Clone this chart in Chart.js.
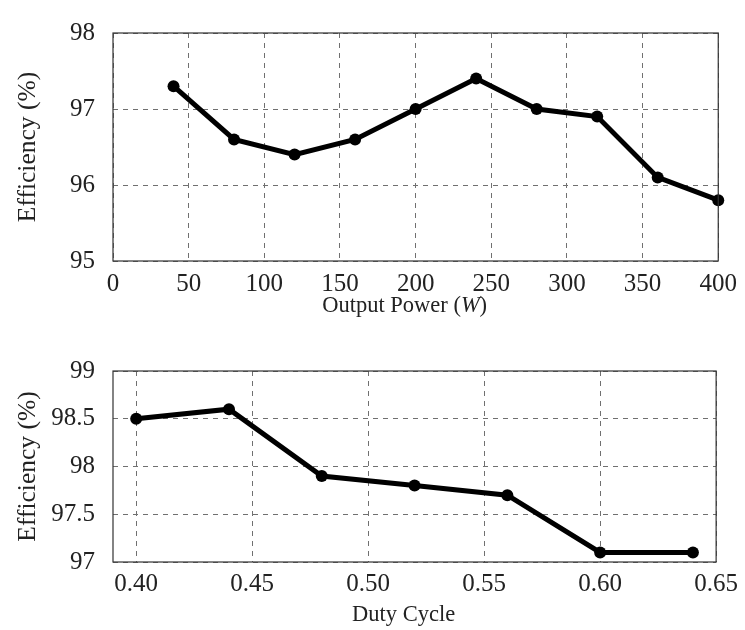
<!DOCTYPE html>
<html>
<head>
<meta charset="utf-8">
<script src="https://cdn.jsdelivr.net/npm/chart.js@4.4.0/dist/chart.umd.min.js"></script>
<style>
  html, body { margin: 0; padding: 0; background: #fff; }
  .panel { position: absolute; left: 0; width: 745px; }
  #topPanel { top: 0; height: 335px; }
  #bottomPanel { top: 315px; height: 315px; }
</style>
</head>
<body>
<div class="panel" id="topPanel"><canvas id="powerChart"></canvas></div>
<div class="panel" id="bottomPanel"><canvas id="dutyChart"></canvas></div>
<script>
// Efficiency vs output power
const powerX = [40, 80, 120, 160, 200, 240, 280, 320, 360, 400];
const powerEff = [97.3, 96.6, 96.4, 96.6, 97.0, 97.4, 97.0, 96.9, 96.1, 95.8];
const powerTicksX = [0, 50, 100, 150, 200, 250, 300, 350, 400];
const powerTicksY = [95, 96, 97, 98];

// Efficiency vs duty cycle
const dutyX = [0.40, 0.44, 0.48, 0.52, 0.56, 0.60, 0.64];
const dutyEff = [98.5, 98.6, 97.9, 97.8, 97.7, 97.1, 97.1];
const dutyTicksX = [0.40, 0.45, 0.50, 0.55, 0.60, 0.65];
const dutyTicksY = [97, 97.5, 98, 98.5, 99];

const SERIF = '"Liberation Serif", "Times New Roman", serif';
const GRID = '#707070';
const DASH = [5, 5];

// box around plot area + axis titles (x title may contain an italic part)
const framePlugin = {
    id: 'frame',
    afterDraw(chart, args, opts) {
        const { ctx, chartArea: a } = chart;
        ctx.save();
        ctx.strokeStyle = '#333';
        ctx.lineWidth = 1.2;
        ctx.setLineDash([]);
        ctx.strokeRect(a.left, a.top, a.right - a.left, a.bottom - a.top);

        ctx.fillStyle = '#222';
        ctx.textBaseline = 'middle';

        // x title pieces
        const parts = opts.xTitle;
        let total = 0;
        parts.forEach(p => {
            ctx.font = (p.italic ? 'italic ' : '') + '22.5px ' + SERIF;
            p.w = ctx.measureText(p.text).width;
            total += p.w;
        });
        let x = (a.left + a.right) / 2 - 11 - total / 2;
        ctx.textAlign = 'left';
        parts.forEach(p => {
            ctx.font = (p.italic ? 'italic ' : '') + '22.5px ' + SERIF;
            ctx.fillText(p.text, x, a.bottom + opts.xTitleGap);
            x += p.w;
        });

        // y title
        ctx.font = '25.5px ' + SERIF;
        ctx.textAlign = 'center';
        ctx.translate(opts.yTitleX, (a.top + a.bottom) / 2);
        ctx.rotate(-Math.PI / 2);
        ctx.fillText(opts.yTitle, 0, 0);
        ctx.restore();
    }
};

function makeChart(id, xs, ys, cfg) {
    const ctx = document.getElementById(id).getContext('2d');
    return new Chart(ctx, {
        type: 'line',
        data: {
            datasets: [{
                data: xs.map((x, i) => ({ x: x, y: ys[i] })),
                borderColor: '#000',
                backgroundColor: '#000',
                borderWidth: 5,
                pointRadius: 6,
                pointBorderWidth: 0,
                tension: 0,
                clip: false
            }]
        },
        options: {
            responsive: true,
            maintainAspectRatio: false,
            animation: false,
            layout: { padding: cfg.padding },
            scales: {
                x: {
                    type: 'linear',
                    min: cfg.xMin,
                    max: cfg.xMax,
                    afterBuildTicks: s => { s.ticks = cfg.xTicks.map(v => ({ value: v })); },
                    afterFit: s => { s.height = cfg.xHeight; },
                    border: { display: false, dash: DASH },
                    grid: { color: GRID, lineWidth: 1, drawTicks: false },
                    ticks: {
                        padding: cfg.xTickPad,
                        color: '#222',
                        font: { family: SERIF, size: 25 },
                        maxRotation: 0,
                        autoSkip: false,
                        callback: v => cfg.xFmt(v)
                    }
                },
                y: {
                    min: cfg.yMin,
                    max: cfg.yMax,
                    afterBuildTicks: s => { s.ticks = cfg.yTicks.map(v => ({ value: v })); },
                    afterFit: s => { s.width = cfg.yWidth; },
                    border: { display: false, dash: DASH },
                    grid: { color: GRID, lineWidth: 1, drawTicks: false },
                    ticks: {
                        padding: 18,
                        color: '#222',
                        font: { family: SERIF, size: 25 },
                        autoSkip: false,
                        callback: v => String(v)
                    }
                }
            },
            plugins: {
                legend: { display: false },
                tooltip: { enabled: false },
                frame: {
                    xTitle: cfg.xTitle,
                    xTitleGap: cfg.xTitleGap,
                    yTitle: 'Efficiency (%)',
                    yTitleX: 28
                }
            }
        },
        plugins: [framePlugin]
    });
}

makeChart('powerChart', powerX, powerEff, {
    padding: { left: 0, right: 24, top: 21, bottom: 0 },
    xMin: 0, xMax: 400, xTicks: powerTicksX, xFmt: v => String(v),
    yMin: 95, yMax: 98, yTicks: powerTicksY,
    xHeight: 74, yWidth: 113, xTickPad: 8,
    xTitle: [{ text: 'Output Power (' }, { text: 'W', italic: true }, { text: ')' }],
    xTitleGap: 45
});

makeChart('dutyChart', dutyX, dutyEff, {
    padding: { left: 0, right: 24, top: 56, bottom: 0 },
    xMin: 0.39, xMax: 0.65, xTicks: dutyTicksX, xFmt: v => v.toFixed(2),
    yMin: 97, yMax: 99, yTicks: dutyTicksY,
    xHeight: 68, yWidth: 113, xTickPad: 7,
    xTitle: [{ text: 'Duty Cycle' }],
    xTitleGap: 53
});
</script>
</body>
</html>
